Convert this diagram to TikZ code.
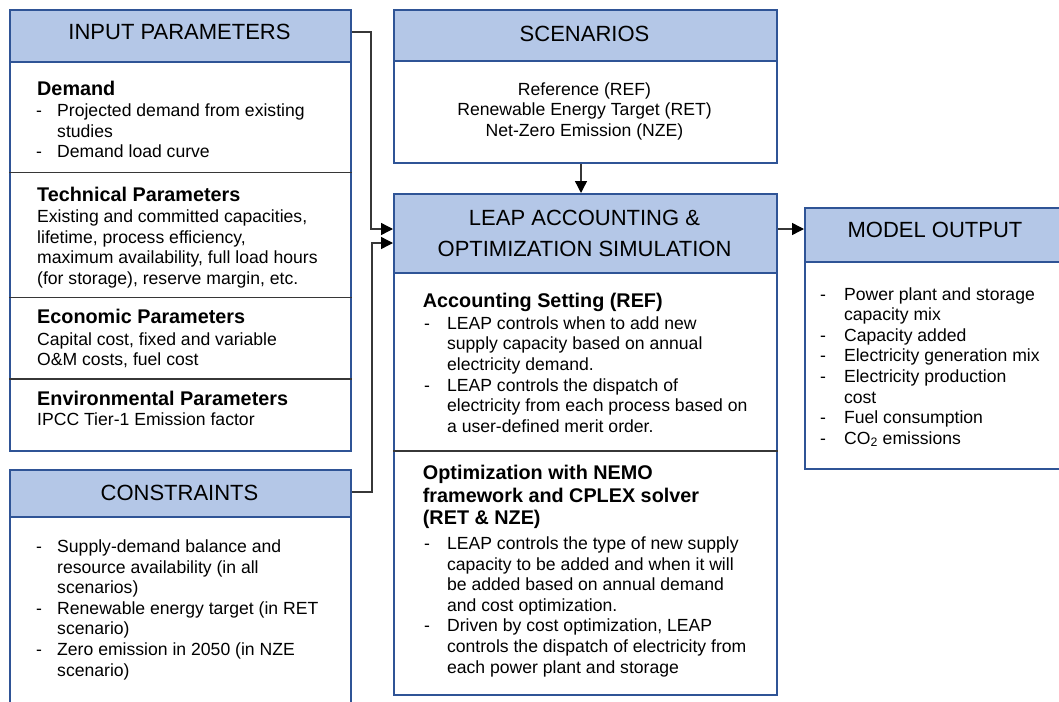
\documentclass[tikz,border=0pt]{standalone}
\usepackage{fontspec}
\setmainfont{Liberation Sans}
\usetikzlibrary{arrows.meta}

\definecolor{boxblue}{RGB}{47,84,150}
\definecolor{headfill}{RGB}{180,199,231}
\definecolor{linegray}{RGB}{55,55,55}

% dash for list items, and the indent of a wrapped item line
\newcommand{\bitem}[1][21pt]{\makebox[#1][l]{-}}
\newcommand{\bcont}[1][21pt]{\hspace*{#1}}

% text nodes sit on the baseline of their last line
\tikzset{
	headbox/.style={draw=boxblue, fill=headfill, line width=2pt, anchor=north west, inner sep=0pt},
	bodybox/.style={draw=boxblue, fill=white, line width=2pt, anchor=north west, inner sep=0pt},
	headtxt/.style={anchor=base, align=center, inner sep=0pt, font=\fontsize{22}{31}\selectfont},
	subhead/.style={anchor=base west, align=left, inner sep=0pt, font=\bfseries\fontsize{19.8}{22.3}\selectfont},
	bodytxt/.style={anchor=base west, align=left, inner sep=0pt, font=\fontsize{17.6}{20.6}\selectfont},
	sepline/.style={draw=linegray, line width=1.3pt},
	conn/.style={draw=linegray, line width=1.4pt, -{Triangle[length=12pt,width=12pt,color=black]}}
}

\begin{document}
\begin{tikzpicture}[x=1pt,y=-1pt]
	
	\useasboundingbox (0,0) rectangle (1059,701);
	
	% input parameters
	\node[headbox, minimum width=341pt, minimum height=52pt] (inph) at (9,9) {};
	\node[bodybox, minimum width=341pt, minimum height=389pt] (inpb) at (9,61) {};
	\node[headtxt] (inpt) at (179.5,40) {INPUT PARAMETERS};
	\draw[sepline] (inpb.west |- 0,172.5) -- (inpb.east |- 0,172.5);
	\draw[sepline] (inpb.west |- 0,297.5) -- (inpb.east |- 0,297.5);
	\draw[sepline] (inpb.west |- 0,379) -- (inpb.east |- 0,379);
	
	\node[subhead] (dem) at (37,95) {Demand};
	\node[bodytxt] (demtxt) at (36,157.9) {\bitem Projected demand from existing\\
		\bcont studies\\
		\bitem Demand load curve};
	\node[subhead] (tech) at (37,201.7) {Technical Parameters};
	\node[bodytxt] (techtxt) at (37,284.5) {Existing and committed capacities,\\
		lifetime, process efficiency,\\
		maximum availability, full load hours\\
		(for storage), reserve margin, etc.};
	\node[subhead] (eco) at (37,323.3) {Economic Parameters};
	\node[bodytxt] (ecotxt) at (37,365.6) {Capital cost, fixed and variable\\
		O\&M costs, fuel cost};
	\node[subhead] (env) at (37,405) {Environmental Parameters};
	\node[bodytxt] (envtxt) at (37,425.7) {IPCC Tier-1 Emission factor};
	
	% constraints
	\node[headbox, minimum width=341pt, minimum height=47pt] (conh) at (9,469) {};
	\node[bodybox, minimum width=341pt, minimum height=200pt] (conb) at (9,516) {};
	\node[headtxt] (cont) at (179.5,500) {CONSTRAINTS};
	\node[bodytxt] (contxt) at (36,676.1) {\bitem Supply-demand balance and\\
		\bcont resource availability (in all\\
		\bcont scenarios)\\
		\bitem Renewable energy target (in RET\\
		\bcont scenario)\\
		\bitem Zero emission in 2050 (in NZE\\
		\bcont scenario)};
	
	% scenarios
	\node[headbox, minimum width=383pt, minimum height=51pt] (scnh) at (393,9) {};
	\node[bodybox, minimum width=383pt, minimum height=102pt] (scnb) at (393,60) {};
	\node[headtxt] (scnt) at (584.5,41.7) {SCENARIOS};
	\node[bodytxt, anchor=base, align=center] (scntxt) at (584.5,136.2) {Reference (REF)\\
		Renewable Energy Target (RET)\\
		Net-Zero Emission (NZE)};
	
	% leap
	\node[headbox, minimum width=383pt, minimum height=79pt] (leaph) at (393,193) {};
	\node[bodybox, minimum width=383pt, minimum height=422pt] (leapb) at (393,272) {};
	\node[headtxt] (leapt) at (584.5,256.7) {LEAP ACCOUNTING \&\\
		OPTIMIZATION SIMULATION};
	\draw[sepline] (leapb.west |- 0,451) -- (leapb.east |- 0,451);
	
	\node[subhead] (acc) at (422.7,307.3) {Accounting Setting (REF)};
	\node[bodytxt] (acctxt) at (424,432.3) {\bitem[18pt] LEAP controls when to add new\\
		\bcont[18pt] supply capacity based on annual\\
		\bcont[18pt] electricity demand.\\
		\bitem[18pt] LEAP controls the dispatch of\\
		\bcont[18pt] electricity from each process based on\\
		\bcont[18pt] a user-defined merit order.};
	\node[subhead] (opt) at (422.7,524.5) {Optimization with NEMO\\
		framework and CPLEX solver\\
		(RET \& NZE)};
	\node[bodytxt] (opttxt) at (424,673.1) {\bitem[18pt] LEAP controls the type of new supply\\
		\bcont[18pt] capacity to be added and when it will\\
		\bcont[18pt] be added based on annual demand\\
		\bcont[18pt] and cost optimization.\\
		\bitem[18pt] Driven by cost optimization, LEAP\\
		\bcont[18pt] controls the dispatch of electricity from\\
		\bcont[18pt] each power plant and storage};
	
	% model output
	\node[headbox, minimum width=262pt, minimum height=54pt] (outh) at (804,207) {};
	\node[bodybox, minimum width=262pt, minimum height=207pt] (outb) at (804,261) {};
	\node[headtxt] (outt) at (935,237.7) {MODEL OUTPUT};
	\node[bodytxt] (outtxt) at (820,444.2) {\bitem[19pt] Power plant and storage\\
		\bcont[19pt] capacity mix\\
		\bitem[19pt] Capacity added\\
		\bitem[19pt] Electricity generation mix\\
		\bitem[19pt] Electricity production\\
		\bcont[19pt] cost\\
		\bitem[19pt] Fuel consumption\\
		\bitem[19pt] CO\textsubscript{2} emissions};
	
	% connectors
	\draw[conn] (inph.east |- 0,32) -- (371,32) |- (leaph.west |- 0,229);
	\draw[conn] (conh.east |- 0,492) -- (372,492) |- (leaph.west |- 0,243);
	\draw[conn] (scnb.south -| 581,0) -- (leaph.north -| 581,0);
	\draw[conn] (leaph.east |- 0,229) -- (outh.west |- 0,229);
	
\end{tikzpicture}
\end{document}
